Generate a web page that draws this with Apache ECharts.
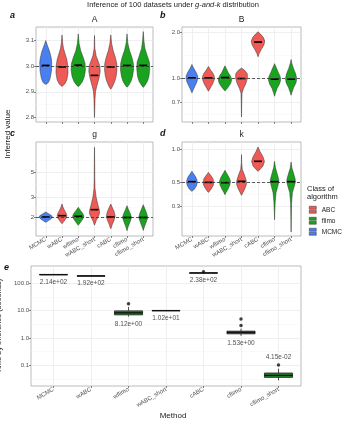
<!DOCTYPE html>
<html>
<head>
<meta charset="utf-8">
<script src="https://cdn.jsdelivr.net/npm/echarts@6/dist/echarts.min.js"></script>
<style>
html, body { margin: 0; padding: 0; background: #fff; }
#chart { width: 346px; height: 423px; }
</style>
</head>
<body>
<div id="chart"></div>
<script>
// methods and their class
const methods = ['MCMC', 'wABC', 'wflimo', 'wABC_short', 'cABC', 'cflimo', 'cflimo_short'];
const methodClass = ['MCMC', 'ABC', 'flimo', 'ABC', 'ABC', 'flimo', 'flimo'];
const classes = ['ABC', 'flimo', 'MCMC'];

// true parameter values (dashed lines)
const truthA = 3.0, truthB = 1.0, truthG = 2.0, truthK = 0.5;

// tick values
const ticksA = [2.8, 2.9, 3.0, 3.1];
const minorA = [2.85, 2.95, 3.05, 3.15];
const ticksB = [0.7, 1.0, 2.0];
const minorB = [0.585, 0.837, 1.414];
const ticksG = [2, 3, 5];
const minorG = [1.633, 2.449, 3.873, 6.455];
const ticksK = [0.3, 0.5, 1.0];
const minorK = [0.232, 0.387, 0.707];
const ticksTime = [0.1, 1, 10, 100];
const minorTime = [0.0316, 0.316, 3.16, 31.6, 316];

// medians of the estimates
const medianA = [3.003, 2.997, 3.004, 2.964, 2.997, 3.003, 3.003];
const medianB = [1.01, 1.01, 1.015, 1.0, 1.73, 0.99, 0.99];
const medianG = [2.0, 2.055, 2.03, 2.325, 2.0, 1.98, 1.98];
const medianK = [0.504, 0.496, 0.493, 0.507, 0.772, 0.504, 0.504];

// violin outlines: [value, half width in category units], top to bottom
const violinA = [
  [[3.10,0],[3.085,0.08],[3.057,0.24],[3.031,0.34],[3.012,0.37],[2.98,0.35],[2.953,0.27],[2.938,0.18],[2.931,0.08],[2.929,0]],
  [[3.122,0],[3.09,0.04],[3.07,0.09],[3.05,0.18],[3.025,0.3],[3.0,0.36],[2.973,0.37],[2.947,0.3],[2.93,0.17],[2.921,0]],
  [[3.126,0],[3.09,0.05],[3.06,0.15],[3.035,0.3],[3.01,0.42],[2.985,0.44],[2.96,0.38],[2.94,0.26],[2.926,0.1],[2.92,0]],
  [[3.12,0],[3.07,0.02],[3.04,0.1],[3.02,0.22],[3.0,0.33],[2.98,0.35],[2.96,0.3],[2.94,0.22],[2.92,0.13],[2.9,0.06],[2.87,0.03],[2.83,0.015],[2.80,0]],
  [[3.122,0],[3.09,0.05],[3.06,0.15],[3.035,0.28],[3.01,0.37],[2.985,0.38],[2.96,0.33],[2.94,0.24],[2.92,0.1],[2.91,0]],
  [[3.126,0],[3.09,0.05],[3.06,0.16],[3.035,0.3],[3.01,0.39],[2.985,0.4],[2.96,0.34],[2.94,0.24],[2.925,0.1],[2.918,0]],
  [[3.135,0],[3.1,0.04],[3.07,0.1],[3.04,0.25],[3.015,0.38],[2.99,0.4],[2.96,0.35],[2.94,0.25],[2.925,0.1],[2.917,0]]
];
const violinB = [
  [[1.235,0],[1.17,0.1],[1.1,0.25],[1.04,0.35],[1.0,0.35],[0.95,0.3],[0.89,0.18],[0.84,0.07],[0.806,0]],
  [[1.2,0],[1.14,0.12],[1.08,0.28],[1.03,0.36],[0.98,0.35],[0.92,0.25],[0.87,0.12],[0.826,0]],
  [[1.21,0],[1.15,0.1],[1.09,0.2],[1.04,0.33],[0.99,0.41],[0.93,0.35],[0.87,0.17],[0.83,0]],
  [[1.17,0],[1.13,0.2],[1.08,0.34],[1.03,0.36],[0.98,0.33],[0.92,0.25],[0.86,0.12],[0.8,0.03],[0.7,0.015],[0.56,0]],
  [[2.02,0],[1.95,0.15],[1.85,0.33],[1.75,0.41],[1.65,0.35],[1.55,0.2],[1.45,0.06],[1.387,0]],
  [[1.25,0],[1.18,0.1],[1.1,0.22],[1.03,0.34],[0.98,0.37],[0.92,0.3],[0.86,0.15],[0.8,0.05],[0.766,0]],
  [[1.33,0],[1.25,0.05],[1.16,0.15],[1.07,0.28],[1.0,0.34],[0.94,0.3],[0.87,0.15],[0.81,0.05],[0.778,0]]
];
const violinG = [
  [[2.216,0],[2.15,0.15],[2.07,0.33],[2.0,0.42],[1.93,0.33],[1.85,0.15],[1.793,0]],
  [[2.61,0],[2.45,0.06],[2.3,0.15],[2.15,0.26],[2.05,0.3],[1.95,0.25],[1.83,0.12],[1.745,0]],
  [[2.44,0],[2.3,0.12],[2.15,0.28],[2.03,0.35],[1.92,0.28],[1.78,0.12],[1.686,0]],
  [[8.35,0],[6,0.01],[4.5,0.015],[3.6,0.03],[3.0,0.1],[2.6,0.2],[2.3,0.3],[2.15,0.31],[2.0,0.22],[1.85,0.1],[1.69,0]],
  [[2.61,0],[2.45,0.08],[2.25,0.2],[2.05,0.27],[1.9,0.22],[1.72,0.1],[1.574,0]],
  [[2.52,0],[2.35,0.08],[2.15,0.2],[1.98,0.28],[1.8,0.18],[1.62,0.06],[1.51,0]],
  [[2.57,0],[2.4,0.08],[2.18,0.2],[1.98,0.28],[1.8,0.18],[1.62,0.06],[1.52,0]]
];
const violinK = [
  [[0.626,0],[0.6,0.08],[0.56,0.22],[0.52,0.31],[0.49,0.32],[0.46,0.27],[0.43,0.15],[0.411,0]],
  [[0.612,0],[0.58,0.12],[0.54,0.26],[0.5,0.33],[0.47,0.3],[0.44,0.2],[0.415,0.08],[0.402,0]],
  [[0.639,0],[0.6,0.1],[0.55,0.25],[0.51,0.33],[0.47,0.3],[0.43,0.18],[0.4,0.06],[0.383,0]],
  [[0.888,0],[0.75,0.01],[0.65,0.05],[0.58,0.18],[0.52,0.28],[0.48,0.3],[0.44,0.22],[0.4,0.08],[0.378,0]],
  [[1.043,0],[0.95,0.12],[0.85,0.3],[0.77,0.39],[0.7,0.3],[0.65,0.12],[0.626,0]],
  [[0.772,0],[0.68,0.05],[0.6,0.15],[0.53,0.25],[0.5,0.26],[0.46,0.2],[0.4,0.09],[0.33,0.04],[0.27,0.015],[0.2266,0]],
  [[0.761,0],[0.67,0.05],[0.6,0.15],[0.53,0.25],[0.5,0.26],[0.46,0.2],[0.4,0.08],[0.32,0.03],[0.24,0.012],[0.175,0]]
];

// time by inference: [min, Q1, median, Q3, max]
const timeBoxes = [
  [203, 206, 207, 208, 214],
  [183, 184.5, 185, 185.5, 187],
  [6.1, 7.0, 8.3, 9.8, 13.5],
  [9.9, 10.0, 10.0, 10.05, 10.1],
  [234, 236, 238, 240, 244],
  [1.2, 1.42, 1.6, 1.78, 2.2],
  [0.0283, 0.0363, 0.043, 0.0525, 0.075]
];
const timeOutliers = [[3, 17.7], [5, 262], [6, 2.85], [6, 4.9], [7, 0.102]];
const timeMeans = [214, 192, 8.12, 10.2, 238, 1.53, 0.0415];

// styles
const classColor = { ABC: '#EE5A55', flimo: '#1AA31E', MCMC: '#4A7FF0' };
const boxFill = { ABC: '#EE5A55', flimo: '#23892A', MCMC: '#4A7FF0' };
const labelAbove = [false, false, false, false, false, false, true];
const FONT = 'Liberation Sans';
const catTicks = [1, 2, 3, 4, 5, 6, 7];

const panels = [
  { letter: 'a', name: 'A', grid: { left: 36, top: 27, width: 117, height: 95 }, log: false, min: 2.782, max: 3.153,
    ticks: ticksA, minor: minorA, fmt: v => v.toFixed(1), showX: false, truth: truthA, medians: medianA, violins: violinA },
  { letter: 'b', name: 'B', grid: { left: 182, top: 27, width: 119, height: 95 }, log: true, min: 0.52, max: 2.17,
    ticks: ticksB, minor: minorB, fmt: v => v.toFixed(1), showX: false, truth: truthB, medians: medianB, violins: violinB },
  { letter: 'c', name: 'g', grid: { left: 36, top: 142, width: 117, height: 94 }, log: true, min: 1.355, max: 9.3,
    ticks: ticksG, minor: minorG, fmt: v => String(Math.round(v)), showX: true, truth: truthG, medians: medianG, violins: violinG },
  { letter: 'd', name: 'k', grid: { left: 182, top: 142, width: 119, height: 94 }, log: true, min: 0.161, max: 1.158,
    ticks: ticksK, minor: minorK, fmt: v => v.toFixed(1), showX: true, truth: truthK, medians: medianK, violins: violinK }
];

function sci(v) {
  const s = v.toExponential(2).split('e');
  const e = parseInt(s[1], 10);
  return s[0] + 'e' + (e < 0 ? '-' : '+') + String(Math.abs(e)).padStart(2, '0');
}

function xAxisFor(gi, showLabels) {
  return {
    type: 'value', gridIndex: gi, min: 0.4, max: 7.6,
    axisLine: { show: false },
    axisTick: { show: true, length: 2, customValues: catTicks, lineStyle: { color: '#333', width: 0.6 } },
    axisLabel: { show: showLabels, customValues: catTicks, formatter: v => methods[Math.round(v) - 1],
      rotate: 30, fontSize: 6, color: '#4d4d4d', margin: 3, fontFamily: FONT },
    splitLine: { show: true, lineStyle: { color: '#ebebeb', width: 0.8 } }
  };
}
function yAxesFor(gi, log, min, max, ticks, minor, fmt) {
  const base = { type: log ? 'log' : 'value', logBase: 10, gridIndex: gi, min: min, max: max, axisLine: { show: false } };
  return [
    Object.assign({}, base, {
      axisTick: { show: true, length: 2, customValues: ticks, lineStyle: { color: '#333', width: 0.6 } },
      axisLabel: { customValues: ticks, formatter: fmt, fontSize: 6, color: '#4d4d4d', margin: 2, fontFamily: FONT },
      splitLine: { show: true, lineStyle: { color: '#ebebeb', width: 0.8 } }
    }),
    Object.assign({}, base, {
      position: 'left',
      axisTick: { show: false, customValues: minor },
      axisLabel: { show: false },
      splitLine: { show: true, lineStyle: { color: '#f4f4f4', width: 0.5 } }
    })
  ];
}

function violinRenderer(violins) {
  return function (params, api) {
    const x = api.value(0);
    const prof = violins[Math.round(x) - 1];
    const right = prof.map(p => api.coord([x + p[1], p[0]]));
    const left = prof.map(p => api.coord([x - p[1], p[0]])).reverse();
    const med = api.value(1);
    const m1 = api.coord([x - 0.24, med]);
    const m2 = api.coord([x + 0.24, med]);
    return {
      type: 'group',
      children: [
        { type: 'polygon', shape: { points: right.concat(left) },
          style: { fill: api.visual('color'), stroke: '#333', lineWidth: 0.5 } },
        { type: 'line', shape: { x1: m1[0], y1: m1[1], x2: m2[0], y2: m2[1] },
          style: { stroke: '#000', lineWidth: 1.6 } }
      ]
    };
  };
}

// box with whiskers but no caps, like ggplot's geom_boxplot
function boxRenderer(params, api) {
  const x = api.value(0);
  const k = Math.round(x) - 1;
  const hw = 0.375;
  const lo = api.coord([x, api.value(1)]);
  const q1 = api.coord([x - hw, api.value(2)]);
  const med = api.value(3);
  const q3 = api.coord([x + hw, api.value(4)]);
  const hi = api.coord([x, api.value(5)]);
  const m1 = api.coord([x - hw, med]);
  const m2 = api.coord([x + hw, med]);
  const stroke = { stroke: '#222', lineWidth: 0.8 };
  return {
    type: 'group',
    children: [
      { type: 'line', shape: { x1: hi[0], y1: hi[1], x2: hi[0], y2: q3[1] }, style: stroke },
      { type: 'line', shape: { x1: lo[0], y1: lo[1], x2: lo[0], y2: q1[1] }, style: stroke },
      { type: 'rect', shape: { x: q1[0], y: q3[1], width: q3[0] - q1[0], height: q1[1] - q3[1] },
        style: { fill: boxFill[methodClass[k]], stroke: '#222', lineWidth: 0.8 } },
      { type: 'line', shape: { x1: m1[0], y1: m1[1], x2: m2[0], y2: m2[1] }, style: { stroke: '#111', lineWidth: 1.4 } }
    ]
  };
}

const grids = [], xAxes = [], yAxes = [], series = [], titles = [];

titles.push({
  text: '{n|Inference of 100 datasets under }{i|g-and-k}{n| distribution}',
  left: 'center', top: 1, padding: 0,
  textStyle: { rich: {
    n: { fontSize: 7.5, color: '#222', fontFamily: FONT, fontWeight: 'normal' },
    i: { fontSize: 7.5, color: '#222', fontFamily: FONT, fontWeight: 'normal', fontStyle: 'italic' }
  } }
});

panels.forEach((p, i) => {
  grids.push(Object.assign({ show: true, borderColor: '#aaa', borderWidth: 0.8, backgroundColor: 'transparent', outerBoundsMode: 'none' }, p.grid));
  xAxes.push(xAxisFor(i, p.showX));
  yAxes.push.apply(yAxes, yAxesFor(i, p.log, p.min, p.max, p.ticks, p.minor, p.fmt));
  classes.forEach(c => {
    const data = [];
    methods.forEach((m, k) => { if (methodClass[k] === c) data.push([k + 1, p.medians[k]]); });
    series.push({
      type: 'custom', name: c, xAxisIndex: i, yAxisIndex: 2 * i,
      data: data, encode: { x: 0, y: 1 }, clip: true,
      itemStyle: { color: classColor[c] },
      renderItem: violinRenderer(p.violins), z: 3
    });
  });
  series.push({
    type: 'line', xAxisIndex: i, yAxisIndex: 2 * i, data: [], z: 5,
    markLine: { silent: true, symbol: 'none', label: { show: false },
      lineStyle: { type: [3, 2], color: '#333', width: 0.8 },
      data: [{ yAxis: p.truth }] }
  });
  const cx = p.grid.left + p.grid.width / 2;
  titles.push({ text: p.name, left: cx, top: p.grid.top - 12, textAlign: 'center', padding: 0,
    textStyle: { fontSize: 8.5, fontWeight: 'normal', color: '#222', fontFamily: FONT } });
  titles.push({ text: p.letter, left: p.grid.left - 26 + (i % 2 ? 4 : 0), top: p.grid.top - 16 + (i > 1 ? 3 : 0), padding: 0,
    textStyle: { fontSize: 9, fontWeight: 'bold', fontStyle: 'italic', color: '#111', fontFamily: FONT } });
});

// panel e: time by inference
grids.push({ show: true, borderColor: '#aaa', borderWidth: 0.8, backgroundColor: 'transparent', outerBoundsMode: 'none',
  left: 31, top: 266, width: 270, height: 120 });
const xe = xAxisFor(4, true);
xe.name = 'Method';
xe.nameLocation = 'middle';
xe.nameGap = 26;
xe.nameTextStyle = { fontSize: 8, color: '#222', fontFamily: FONT, padding: [0, 0, 0, 14] };
xAxes.push(xe);
const ye = yAxesFor(4, true, 0.0176, 428, ticksTime, minorTime, v => v.toFixed(1));
ye[0].name = 'Time by inference (seconds)';
ye[0].nameLocation = 'middle';
ye[0].nameGap = 18;
ye[0].nameTextStyle = { fontSize: 7.5, color: '#222', fontFamily: FONT };
yAxes.push.apply(yAxes, ye);

series.push({
  type: 'custom', xAxisIndex: 4, yAxisIndex: 8, clip: true,
  data: timeBoxes.map((b, k) => [k + 1].concat(b)),
  encode: { x: 0, y: [1, 2, 3, 4, 5] },
  renderItem: boxRenderer, z: 3
});
series.push({
  type: 'scatter', xAxisIndex: 4, yAxisIndex: 8, data: timeOutliers,
  symbolSize: 3.5, itemStyle: { color: '#111' }, z: 4
});
series.push({
  type: 'scatter', xAxisIndex: 4, yAxisIndex: 8, symbolSize: 0, z: 6, silent: true,
  data: timeMeans.map((m, k) => {
    const out = timeOutliers.filter(o => o[0] === k + 1).map(o => o[1]);
    const anchor = labelAbove[k] ? Math.max.apply(null, out.concat([timeBoxes[k][4]])) : timeBoxes[k][0];
    return { value: [k + 1, anchor], label: { position: labelAbove[k] ? 'top' : 'bottom', formatter: sci(m) } };
  }),
  label: { show: true, distance: 4, fontSize: 6.5, color: '#222', fontFamily: FONT }
});
titles.push({ text: 'e', left: 4, top: 263, padding: 0,
  textStyle: { fontSize: 9, fontWeight: 'bold', fontStyle: 'italic', color: '#111', fontFamily: FONT } });

// legend title
titles.push({ text: 'Class of\nalgorithm', left: 307, top: 184.5, padding: 0,
  textStyle: { fontSize: 7.5, lineHeight: 8.4, fontWeight: 'normal', color: '#222', fontFamily: FONT } });

const chart = echarts.init(document.getElementById('chart'), null, { renderer: 'canvas' });
chart.setOption({
  animation: false,
  backgroundColor: '#fff',
  textStyle: { fontFamily: FONT },
  title: titles,
  legend: {
    data: classes, orient: 'vertical', left: 309, top: 206, padding: 0,
    itemWidth: 8, itemHeight: 7, itemGap: 3.5,
    icon: 'path://M0,0H10V4.3H0Z M0,5.7H10V10H0Z',
    itemStyle: { borderColor: '#333', borderWidth: 0.5 },
    textStyle: { fontSize: 6.5, color: '#222', fontFamily: FONT }
  },
  graphic: [{
    type: 'text', x: 8, y: 134, rotation: Math.PI / 2,
    style: { text: 'Inferred value', fontSize: 8, fill: '#222', fontFamily: FONT, align: 'center', verticalAlign: 'middle' }
  }],
  grid: grids,
  xAxis: xAxes,
  yAxis: yAxes,
  series: series
});
</script>
</body>
</html>
